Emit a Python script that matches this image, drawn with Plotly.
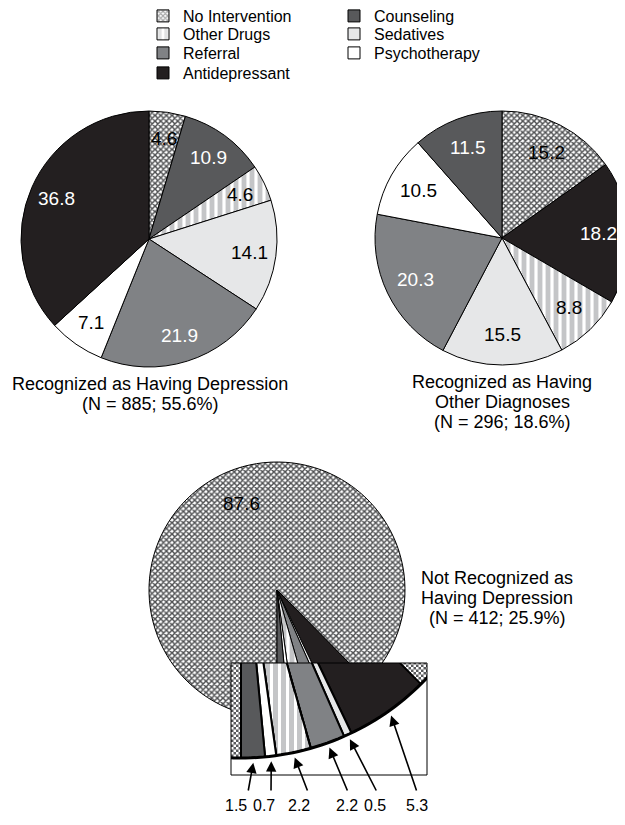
import math
import plotly.graph_objects as go

W, H = 625, 825
OFF = 8          # page offset of the figure (browser body margin)
FONT = "Liberation Sans, Arial, Helvetica, sans-serif"

# ------------------------------------------------------------------ data
dep_labels = ["No Intervention", "Counseling", "Other Drugs", "Sedatives",
              "Referral", "Psychotherapy", "Antidepressant"]
dep_values = [4.6, 10.9, 4.6, 14.1, 21.9, 7.1, 36.8]

oth_labels = ["No Intervention", "Antidepressant", "Other Drugs", "Sedatives",
              "Referral", "Psychotherapy", "Counseling"]
oth_values = [15.2, 18.2, 8.8, 15.5, 20.3, 10.5, 11.5]

nr_labels = ["No Intervention", "Antidepressant", "Sedatives", "Referral",
             "Other Drugs", "Psychotherapy", "Counseling"]
nr_values = [87.6, 5.3, 0.5, 2.2, 2.2, 0.7, 1.5]

legend_col1 = ["No Intervention", "Other Drugs", "Referral", "Antidepressant"]
legend_col2 = ["Counseling", "Sedatives", "Psychotherapy"]

dep_title = ["Recognized as Having Depression", "(N = 885; 55.6%)"]
oth_title = ["Recognized as Having", "Other Diagnoses", "(N = 296; 18.6%)"]
nr_title = ["Not Recognized as", "Having Depression", "(N = 412; 25.9%)"]

# ------------------------------------------------------------------ style
FILL = {"No Intervention": "#ffffff", "Counseling": "#58595b", "Other Drugs": "#ffffff",
        "Sedatives": "#e6e7e8", "Referral": "#808285", "Psychotherapy": "#ffffff",
        "Antidepressant": "#231f20"}
CHECK_DARK = "#5a5b5d"
STRIPE_GREY = "#c4c5c7"
PATTERN = {"No Intervention": dict(shape="x", fgcolor="#4f5052", size=4, solidity=0.6),
           "Other Drugs": dict(shape="|", fgcolor=STRIPE_GREY, size=8, solidity=0.6)}
LIGHT_TEXT = {"Counseling", "Referral", "Antidepressant"}
NUM_SIZE = 19
TITLE_SIZE = 18
LEGEND_SIZE = 16
ARROW_LABEL_SIZE = 16


def fx(px):
    return (px - OFF) / W


def fy(py):
    return 1 - (py - OFF) / H


def marker_for(labels):
    return dict(
        colors=[FILL[l] for l in labels],
        line=dict(color="black", width=1),
        pattern=dict(
            shape=[PATTERN[l]["shape"] if l in PATTERN else "" for l in labels],
            fgcolor=[PATTERN[l]["fgcolor"] if l in PATTERN else FILL[l] for l in labels],
            bgcolor=["white"] * len(labels),
            size=[PATTERN[l]["size"] if l in PATTERN else 8 for l in labels],
            solidity=[PATTERN[l]["solidity"] if l in PATTERN else 0.5 for l in labels],
            fillmode="replace",
        ),
    )


annotations = []


def pie(labels, values, box, rotation=0, shown=None, k=0.79):
    x0, y0, x1, y1 = box
    # value labels placed on each slice's bisector
    cx, cy = (x0 + x1) / 2, (y0 + y1) / 2
    r = min(x1 - x0, y1 - y0) / 2
    tot = sum(values)
    a = rotation
    for lab, v in zip(labels, values):
        span = 360.0 * v / tot
        mid = math.radians(a + span / 2)
        a += span
        if shown is not None and lab not in shown:
            continue
        annotations.append(dict(
            text=f"{v:.1f}", x=fx(cx + k * r * math.sin(mid)), y=fy(cy - k * r * math.cos(mid)),
            xref="paper", yref="paper", xanchor="center", yanchor="middle", showarrow=False,
            font=dict(family=FONT, size=NUM_SIZE,
                      color="white" if lab in LIGHT_TEXT else "black")))
    return go.Pie(
        labels=labels, values=values, sort=False, direction="clockwise", rotation=rotation,
        domain=dict(x=[fx(x0), fx(x1)], y=[fy(y1), fy(y0)]),
        marker=marker_for(labels), textinfo="none",
        showlegend=False, hoverinfo="label+value",
    )


fig = go.Figure()
fig.add_trace(pie(dep_labels, dep_values, (21, 111, 277, 367)))
fig.add_trace(pie(oth_labels, oth_values, (375, 111, 629, 365), k=0.76))
NR_ROTATION = 180
fig.add_trace(pie(nr_labels, nr_values, (149, 462, 405, 718), rotation=NR_ROTATION,
                  shown={"No Intervention"}, k=0.73))

# legend: one single-entry legend per swatch, laid out in two columns
LEG_COL_X = [163, 354]                 # swatch centres (page px)
LEG_ROW_Y = [16, 34, 53, 73]           # row centres (page px)
legends = {}
n = 0
for col, names in enumerate((legend_col1, legend_col2)):
    for row, name in enumerate(names):
        n += 1
        key = "legend" if n == 1 else f"legend{n}"
        legends[key] = dict(x=fx(LEG_COL_X[col] - 20), y=fy(LEG_ROW_Y[row]),
                            xanchor="left", yanchor="middle", bgcolor="rgba(0,0,0,0)",
                            font=dict(family=FONT, size=LEGEND_SIZE, color="black"),
                            itemclick=False, itemdoubleclick=False)
        p = PATTERN.get(name)
        fig.add_trace(go.Bar(
            x=[None], y=[None], name=name, legend=key, xaxis="x2", yaxis="y2",
            marker=dict(color=FILL[name], line=dict(color="black", width=1),
                        pattern=dict(shape=p["shape"], fgcolor=p["fgcolor"], bgcolor="white",
                                     size=p["size"], solidity=p["solidity"]) if p else None),
            hoverinfo="skip", showlegend=True))

# ------------------------------------------------------------------ magnified inset
INSET_BOX = (231, 663, 427, 775)      # page-pixel window of the inset
INSET_CENTER = (241, 502)             # page-pixel position of the magnified pie centre
R_IN = 256.0                          # magnified radius (2x the pie radius)
xr = [INSET_BOX[0] - INSET_CENTER[0], INSET_BOX[2] - INSET_CENTER[0]]
yr = [INSET_CENTER[1] - INSET_BOX[3], INSET_CENTER[1] - INSET_BOX[1]]

tot = sum(nr_values)
spans = []
a = NR_ROTATION
for v in nr_values:
    spans.append((a, a + 360.0 * v / tot))
    a += 360.0 * v / tot


def pt(phi, r=R_IN):
    t = math.radians(phi)
    return (r * math.sin(t), r * math.cos(t))


def arc(p0, p1, r=R_IN, n=60):
    return [pt(p0 + (p1 - p0) * k / n, r) for k in range(n + 1)]


def to_path(poly, close=True):
    s = "M " + " L ".join(f"{x:.2f},{y:.2f}" for x, y in poly)
    return s + (" Z" if close else "")


def clip_x(poly, xmin, xmax):
    def clip(poly, inside, inter):
        out = []
        for i in range(len(poly)):
            cur, prev = poly[i], poly[i - 1]
            if inside(cur):
                if not inside(prev):
                    out.append(inter(prev, cur))
                out.append(cur)
            elif inside(prev):
                out.append(inter(prev, cur))
        return out

    def ix(p, q, xv):
        t = (xv - p[0]) / (q[0] - p[0])
        return (xv, p[1] + t * (q[1] - p[1]))

    poly = clip(poly, lambda p: p[0] >= xmin, lambda p, q: ix(p, q, xmin))
    if not poly:
        return []
    return clip(poly, lambda p: p[0] <= xmax, lambda p, q: ix(p, q, xmax))


shapes = []
shapes.append(dict(type="rect", xref="x2 domain", yref="y2 domain", x0=0, x1=1, y0=0, y1=1,
                   fillcolor="white", line=dict(width=0), layer="above"))
# checkerboard for "No Intervention"
CELL = 2.5
parts = []
i0, i1 = int(math.floor(xr[0] / CELL)), int(math.ceil(xr[1] / CELL))
j0, j1 = int(math.floor(yr[0] / CELL)), int(math.ceil(yr[1] / CELL))
for i in range(i0, i1):
    for j in range(j0, j1):
        if (i + j) % 2:
            continue
        xa, ya = i * CELL, j * CELL
        parts.append(f"M {xa:.1f},{ya:.1f} L {xa+CELL:.1f},{ya:.1f} L {xa+CELL:.1f},{ya+CELL:.1f} L {xa:.1f},{ya+CELL:.1f} Z")
shapes.append(dict(type="path", xref="x2", yref="y2", path=" ".join(parts),
                   fillcolor=CHECK_DARK, line=dict(width=0), layer="above"))

for lab, (p0, p1) in zip(nr_labels, spans):
    if lab == "No Intervention":
        continue
    poly = [(0.0, 0.0)] + arc(p0, p1)
    base = STRIPE_GREY if lab == "Other Drugs" else FILL[lab]
    shapes.append(dict(type="path", xref="x2", yref="y2", path=to_path(poly),
                       fillcolor=base, line=dict(color="black", width=2), layer="above"))
    if lab == "Other Drugs":
        sp = []
        k = int(math.floor(xr[0] / 8))
        while k * 8 < xr[1]:
            piece = clip_x(poly, k * 8 + 5, k * 8 + 8)
            if len(piece) >= 3:
                sp.append(to_path(piece))
            k += 1
        shapes.append(dict(type="path", xref="x2", yref="y2", path=" ".join(sp),
                           fillcolor="white", line=dict(width=0), layer="above"))
        shapes.append(dict(type="path", xref="x2", yref="y2", path=to_path(poly),
                           fillcolor="rgba(0,0,0,0)", line=dict(color="black", width=2),
                           layer="above"))

# outside of the magnified circle
a_start, a_end = NR_ROTATION + 15, NR_ROTATION - 65
outer = arc(a_start, a_end)
outer += [(1000, outer[-1][1]), (1000, -1000), (-1000, -1000), (-1000, outer[0][1])]
shapes.append(dict(type="path", xref="x2", yref="y2", path=to_path(outer),
                   fillcolor="white", line=dict(width=0), layer="above"))
shapes.append(dict(type="path", xref="x2", yref="y2", path=to_path(arc(a_start, a_end), close=False),
                   fillcolor="rgba(0,0,0,0)", line=dict(color="black", width=3), layer="above"))
shapes.append(dict(type="rect", xref="x2 domain", yref="y2 domain", x0=0, x1=1, y0=0, y1=1,
                   fillcolor="rgba(0,0,0,0)", line=dict(color="black", width=1), layer="above"))

# ------------------------------------------------------------------ arrows + value labels
arrow_tail_x = [248, 271, 308, 348, 377, 417]    # page px of arrow tails
arrow_label_x = [236, 264, 299, 347, 375, 417]   # page px of label centres
ARROW_TAIL_Y = 792
ARROW_LABEL_Y = 805
small = [(l, v, s) for l, v, s in zip(nr_labels, nr_values, spans) if l != "No Intervention"][::-1]
for (lab, val, (p0, p1)), tx, lx in zip(small, arrow_tail_x, arrow_label_x):
    hx, hy = pt((p0 + p1) / 2, R_IN + 5)
    px_x, px_y = INSET_CENTER[0] + hx, INSET_CENTER[1] - hy
    annotations.append(dict(x=hx, y=hy, xref="x2", yref="y2", text="",
                            showarrow=True, axref="pixel", ayref="pixel",
                            ax=tx - px_x, ay=ARROW_TAIL_Y - px_y,
                            arrowhead=2, arrowsize=1.3, arrowwidth=1.6, arrowcolor="black",
                            standoff=0, startstandoff=0))
    annotations.append(dict(text=f"{val:.1f}", x=fx(lx), y=fy(ARROW_LABEL_Y), xref="paper",
                            yref="paper", xanchor="center", yanchor="middle", showarrow=False,
                            font=dict(family=FONT, size=ARROW_LABEL_SIZE, color="black")))


def title_lines(lines, cx, ys):
    for txt, y in zip(lines, ys):
        annotations.append(dict(text=txt, x=fx(cx), y=fy(y), xref="paper", yref="paper",
                                xanchor="center", yanchor="middle", showarrow=False, height=20,
                                font=dict(family=FONT, size=TITLE_SIZE, color="black")))


title_lines(dep_title, 150, [384, 404])
title_lines(oth_title, 502, [382, 402, 422])
title_lines(nr_title, 497, [578, 598, 618])

fig.update_layout(
    width=W, height=H, margin=dict(l=0, r=0, t=0, b=0, autoexpand=False),
    paper_bgcolor="white", plot_bgcolor="rgba(0,0,0,0)",
    font=dict(family=FONT, color="black"),
    hovermode=False,
    xaxis2=dict(domain=[fx(INSET_BOX[0]), fx(INSET_BOX[2])], range=xr, visible=False,
                anchor="y2", fixedrange=True),
    yaxis2=dict(domain=[fy(INSET_BOX[3]), fy(INSET_BOX[1])], range=yr, visible=False,
                anchor="x2", fixedrange=True),
    shapes=shapes, annotations=annotations,
    **legends,
)

fig.write_html("out.html")
